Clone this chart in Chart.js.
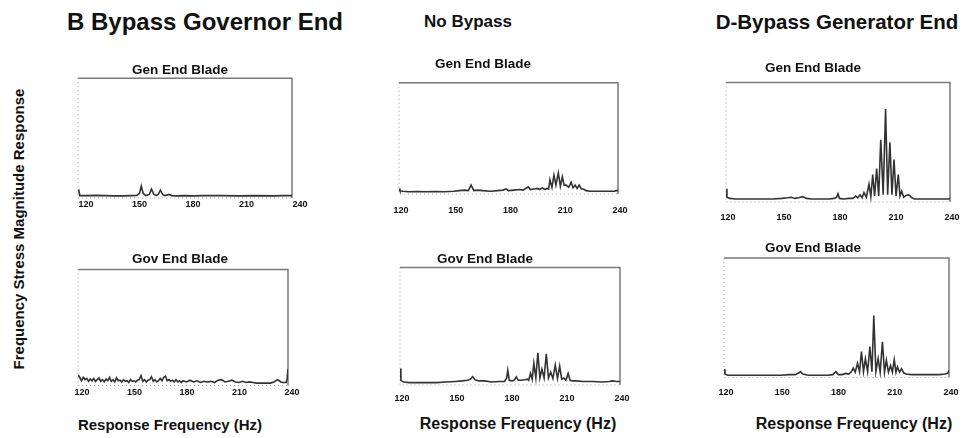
<!DOCTYPE html>
<html>
<head>
<meta charset="utf-8">
<script src="https://cdn.jsdelivr.net/npm/chart.js@4.4.0/dist/chart.umd.min.js"></script>
<style>
  body { margin: 0; background: #fff; }
  #wrap { position: relative; width: 968px; height: 438px; overflow: hidden; background: #fff;
          font-family: "Liberation Sans", Arial, sans-serif; color: #111; }
  .lbl { position: absolute; font-weight: bold; white-space: nowrap; transform: translate(-50%, -50%); }
  canvas { position: absolute; }
</style>
</head>
<body>
<div id="wrap">
  <div class="lbl" style="left:205px; top:22px; font-size:24px">B Bypass Governor End</div>
  <div class="lbl" style="left:468px; top:22px; font-size:17px">No Bypass</div>
  <div class="lbl" style="left:837px; top:22px; font-size:20.5px">D-Bypass Generator End</div>

  <div class="lbl" style="left:170px; top:424px; font-size:15px">Response Frequency (Hz)</div>
  <div class="lbl" style="left:518px; top:424px; font-size:16px">Response Frequency (Hz)</div>
  <div class="lbl" style="left:854px; top:424px; font-size:16px">Response Frequency (Hz)</div>

  <div class="lbl" style="left:18px; top:229px; font-size:15px; transform:translate(-50%,-50%) rotate(-90deg)">Frequency Stress Magnitude Response</div>

  <canvas id="bGen"></canvas>
  <canvas id="bGov"></canvas>
  <canvas id="nGen"></canvas>
  <canvas id="nGov"></canvas>
  <canvas id="dGen"></canvas>
  <canvas id="dGov"></canvas>
</div>

<script>
// x axis tick labels (Hz), same on every panel
const freqTicks = [120, 150, 180, 210, 240];

//-------B Bypass Governor End------//
const bGenFreq = [120, 120.5, 121, 125, 130, 135, 140, 145, 150, 153, 154.5, 155.5, 156.5, 158, 160, 161.2, 162.5, 164, 165, 166.2, 167.5, 169, 171, 172.5, 175, 180, 185, 190, 200, 210, 220, 230, 235, 240];
const bGenMag  = [7, 6, 2, 2, 2.2, 2, 1.8, 1.8, 2, 2.2, 4, 10, 4, 2, 3, 7.5, 3, 2.2, 3, 6.5, 2.8, 2, 3, 2, 1.8, 2, 1.8, 2, 2, 1.8, 2, 1.8, 2, 2];

const bGovFreq = [120, 121, 122, 123, 124, 125, 126, 127, 128, 129, 130, 131, 132, 133, 134, 135, 136, 137, 138, 139,
                  140, 141, 142, 143, 144, 145, 146, 147, 148, 149, 150, 151, 152, 153, 154, 155, 156, 157, 158, 159,
                  160, 161, 162, 163, 164, 165, 166, 167, 168, 169, 170, 171, 172, 173, 174, 175, 176, 177, 178, 179,
                  180, 182, 184, 186, 188, 190, 192, 194, 196, 198, 200, 202, 204, 206, 208, 210, 212, 214, 216, 218,
                  220, 222, 224, 226, 228, 230, 232, 234, 235, 236, 237, 238, 239, 239.5, 240];
const bGovMag  = [9, 7, 4, 7, 5, 6, 3.5, 5.5, 4, 6, 3.5, 5, 6.5, 3.5, 5, 3, 5.5, 4, 7, 3.5,
                  5, 3, 6.5, 4, 4.5, 3, 5, 3.5, 4, 2.5, 5, 3.5, 4, 3, 4.5, 5, 8.5, 3.5, 5, 3,
                  4.5, 5, 7.5, 3.5, 5, 3, 4, 6, 4, 7, 8, 4, 5, 3.5, 4.5, 3, 5, 3, 4, 2.5,
                  4, 3, 4.5, 3, 4, 2.5, 3.5, 3, 3.5, 2.5, 4.5, 5, 3, 3.5, 4.5, 3, 2.5, 3.5, 2.5, 3,
                  2.5, 2, 2, 2, 2, 2, 3, 5, 4, 3, 2.5, 2.5, 2.5, 6, 14];

//-------No Bypass------//
const nGenFreq = [120, 120.5, 122, 125, 130, 135, 140, 145, 150, 153, 156, 158, 159.5, 161, 163, 166, 170, 174, 177, 178.8,
                  180, 183, 186, 188, 190.8, 192, 194, 196, 197, 198.5, 200, 201, 202, 202.7, 203.8, 204.9, 206, 207.3, 208.4, 209.5,
                  210.5, 211.6, 213, 214.3, 215.4, 216.5, 217.6, 218.7, 219.9, 221.1, 222.5, 225, 230, 235, 238, 239, 240];
const nGenMag  = [5, 3, 2.5, 2, 2.3, 2, 2.2, 2, 2.5, 3, 3.5, 3, 8, 3, 3.5, 3, 2.5, 3, 3.5, 4.5,
                  3, 3.5, 4, 3.5, 6.5, 4, 4.5, 5, 4, 5.5, 4, 5, 4.5, 13, 6, 17, 8, 19, 7, 15.5,
                  8, 8, 6, 10.5, 5.5, 8, 5, 8, 4.5, 4.5, 3, 2.5, 2.5, 2.5, 2.5, 3, 3];

const nGovFreq = [120, 120.5, 122, 125, 130, 135, 140, 145, 150, 154, 157, 158.5, 159.6, 161, 163, 166, 170, 174, 177, 178.2,
                  178.8, 179.6, 181, 182.3, 183.4, 184.5, 186, 188, 189.5, 190.2, 191.2, 192.1, 193, 194.1, 195.2, 196.3, 197.4, 198.6, 199.8, 201,
                  202.2, 203.4, 204.7, 205.9, 207.1, 208.2, 209.3, 210.5, 211.7, 212.8, 214, 216, 220, 225, 230, 234, 236, 238, 240];
const nGovMag  = [14, 4, 2.5, 2, 2, 2, 2, 2.5, 3, 3.5, 4, 5, 7, 4.5, 3.5, 3.5, 2.5, 3, 3, 6,
                  12.5, 4, 3.5, 4, 7, 4, 4, 4.5, 5, 4, 10, 5, 18.5, 6, 27.5, 6, 13.5, 6, 26.5, 6,
                  11, 5.5, 17, 5.5, 16, 5, 6, 4, 9.8, 4, 3.5, 3.5, 3, 3, 2.5, 3, 3.5, 3, 3];

//-------D-Bypass Generator End------//
const dGenFreq = [120, 120.5, 122, 125, 130, 135, 140, 145, 150, 153, 155, 157, 159, 161, 163, 166, 170, 175, 178, 179.3,
                  180, 180.8, 183, 186, 188, 189.5, 190.6, 191.8, 192.9, 193.9, 195.2, 196.6, 197.6, 198.6, 199.6, 200.7, 201.8, 202.9, 204.2, 205.5,
                  206.6, 207.8, 208.9, 210, 211.1, 212.3, 213.2, 214.1, 215.2, 216.5, 217.5, 218.5, 219.5, 221, 225, 230, 235, 239, 240];
const dGenMag  = [11, 4, 3, 2.5, 2.5, 2.5, 2.5, 2.5, 3, 3.5, 4, 3, 3.5, 4.5, 3, 2.5, 2.5, 2.5, 3, 4,
                  7, 3, 2.5, 3, 3, 5, 3.5, 6, 3.5, 8, 4, 15, 4.5, 23, 5, 28, 5, 52, 6, 77.7,
                  6, 50, 6, 35.6, 5, 23, 5, 9, 4, 5.5, 6, 5.5, 3.5, 2.5, 2.5, 2.5, 2.5, 2.5, 3];

const dGovFreq = [120, 120.5, 122, 125, 130, 140, 150, 155, 158, 160, 160.7, 162, 165, 170, 175, 178, 179.6, 181, 183, 185,
                  186.5, 188, 188.9, 190, 191.2, 192.3, 193.3, 194.4, 195.4, 196.6, 197.8, 198.9, 199.9, 201, 202.2, 203.3, 204.5, 205.6, 206.6, 207.7,
                  208.8, 209.8, 210.8, 211.7, 212.5, 213.6, 214.7, 215.8, 217, 220, 225, 230, 235, 238, 239.5, 240];
const dGovMag  = [7, 3, 2, 2, 2, 2, 2, 2.5, 2.5, 4, 5, 3, 2, 2, 2, 2.5, 5, 2.5, 2.5, 3.5,
                  3, 5, 8, 4.5, 12, 5, 21.7, 5, 15.7, 5, 26, 5, 52, 5, 16, 4.5, 30, 4.5, 14.5, 4.5,
                  10, 4.5, 15, 4.5, 9, 4.5, 7.5, 4, 3, 2.5, 2.5, 2.5, 2.5, 3, 4, 6];

// where each small plot sits on the page (plot box edges, title centre, tick label gap)
const panels = [
    { id: 'bGen', title: 'Gen End Blade', freq: bGenFreq, mag: bGenMag, L: 78,  T: 78,  R: 292, B: 200, tx: 180, ty: 70.3,  gap: 1.6,  off: 8 },
    { id: 'bGov', title: 'Gov End Blade', freq: bGovFreq, mag: bGovMag, L: 78,  T: 269, R: 288, B: 387, tx: 180, ty: 258.7, gap: 1.9,  off: 4 },
    { id: 'nGen', title: 'Gen End Blade', freq: nGenFreq, mag: nGenMag, L: 399, T: 83,  R: 618, B: 206, tx: 483, ty: 64.3,  gap: 11.6, off: 2 },
    { id: 'nGov', title: 'Gov End Blade', freq: nGovFreq, mag: nGovMag, L: 400, T: 268, R: 620, B: 394, tx: 485, ty: 259.5, gap: 8.6,  off: 2 },
    { id: 'dGen', title: 'Gen End Blade', freq: dGenFreq, mag: dGenMag, L: 726, T: 82,  R: 950, B: 212, tx: 813, ty: 67.7,  gap: 10.6, off: 2 },
    { id: 'dGov', title: 'Gov End Blade', freq: dGovFreq, mag: dGovMag, L: 724, T: 258, R: 949, B: 387, tx: 813, ty: 248,   gap: 9.3,  off: 2 }
];

//----frame around each plot----//
const plotBox = {
    id: 'plotBox',
    beforeDatasetsDraw(chart) {
        const a = chart.chartArea;
        const ctx = chart.ctx;
        ctx.save();
        // top and right: solid grey
        ctx.strokeStyle = '#7a7a7a';
        ctx.lineWidth = 1.5;
        ctx.beginPath();
        ctx.moveTo(a.left, a.top);
        ctx.lineTo(a.right, a.top);
        ctx.lineTo(a.right, a.bottom);
        ctx.stroke();
        // left and bottom: faint dotted
        ctx.strokeStyle = '#9a9a9a';
        ctx.lineWidth = 1;
        ctx.setLineDash([1, 3]);
        ctx.beginPath();
        ctx.moveTo(a.left, a.top);
        ctx.lineTo(a.left, a.bottom);
        ctx.lineTo(a.right, a.bottom);
        ctx.stroke();
        ctx.restore();
    }
};

function drawPanel(p) {
    const side = 20;
    const titleSize = 13.5;
    const lh = titleSize * 1.2;
    const tickLh = 9 * 1.2;
    // spacer on the left so the title centre lands where it is in the scan
    const yw = Math.max(0, p.L + p.R - 2 * p.tx);
    const left = p.L - side - yw;
    const top = p.ty - 2 - lh / 2;
    const w = p.R - p.L + 2 * side + yw;
    const h = p.B - top + p.gap + tickLh + 2;

    const canvas = document.getElementById(p.id);
    canvas.width = Math.round(w);
    canvas.height = Math.round(h);
    canvas.style.left = left + 'px';
    canvas.style.top = top + 'px';

    return new Chart(canvas, {
        type: 'line',
        data: {
            datasets: [{
                data: p.freq.map((f, i) => ({ x: f, y: p.mag[i] })),
                borderColor: '#333',
                borderWidth: 1.6,
                pointRadius: 0,
                tension: 0,
                fill: false
            }]
        },
        options: {
            responsive: false,
            animation: false,
            events: [],
            layout: { padding: { left: side, right: side, top: 2, bottom: 2 } },
            plugins: {
                legend: { display: false },
                tooltip: { enabled: false },
                title: {
                    display: true,
                    text: p.title,
                    color: '#111',
                    font: { family: '"Liberation Sans", Arial, sans-serif', size: titleSize, weight: 'bold', lineHeight: 1.2 },
                    padding: { top: 0, bottom: Math.max(0, p.T - p.ty - lh / 2) }
                }
            },
            scales: {
                x: {
                    type: 'linear',
                    min: 120,
                    max: 240,
                    grid: { display: false, drawTicks: false },
                    border: { display: false },
                    afterBuildTicks: s => { s.ticks = freqTicks.map(v => ({ value: v })); },
                    ticks: {
                        padding: p.gap,
                        labelOffset: p.off,
                        maxRotation: 0,
                        autoSkip: false,
                        color: '#111',
                        font: { family: '"Liberation Sans", Arial, sans-serif', size: 9, weight: 'bold' }
                    }
                },
                y: {
                    min: 0,
                    max: 100,
                    grid: { display: false, drawTicks: false },
                    border: { display: false },
                    ticks: { display: false },
                    afterFit: s => { s.width = yw; }
                }
            }
        },
        plugins: [plotBox]
    });
}

panels.forEach(drawPanel);
</script>
</body>
</html>
